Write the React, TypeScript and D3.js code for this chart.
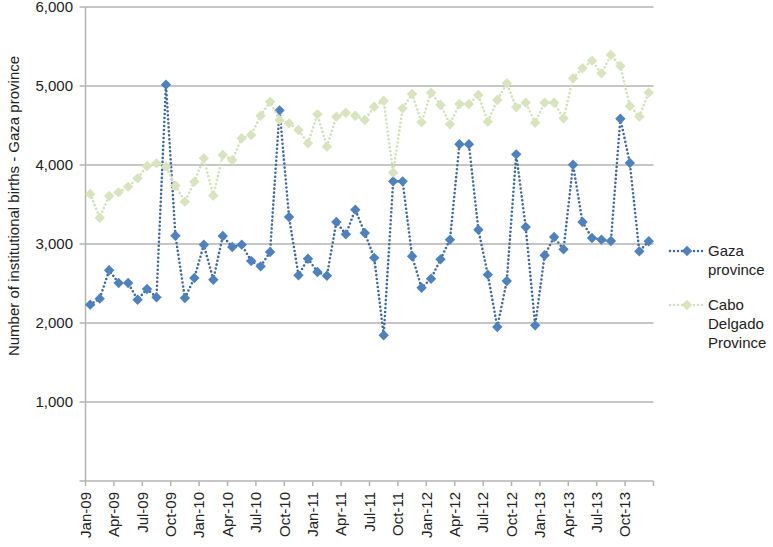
import React from "react";
import * as d3 from "d3";

const months: string[] = [];
["09", "10", "11", "12", "13"].forEach((yy) =>
  ["Jan", "Feb", "Mar", "Apr", "May", "Jun", "Jul", "Aug", "Sep", "Oct", "Nov", "Dec"].forEach((m) =>
    months.push(`${m}-${yy}`)
  )
);

const gaza: number[] = [
  2232, 2308, 2667, 2506, 2506, 2295, 2430, 2325, 5017, 3105, 2316, 2570,
  2990, 2548, 3101, 2962, 2992, 2785, 2717, 2899, 4692, 3342, 2603, 2814,
  2646, 2599, 3278, 3122, 3435, 3139, 2825, 1844, 3793, 3793, 2844, 2447,
  2561, 2806, 3055, 4262, 4262, 3181, 2612, 1949, 2532, 4135, 3215, 1970,
  2857, 3089, 2932, 4004, 3278, 3076, 3055, 3038, 4586, 4025, 2907, 3034,
];

const cabo: number[] = [
  3633, 3333, 3608, 3654, 3726, 3831, 3987, 4021, 3979, 3738, 3536, 3789,
  4084, 3612, 4127, 4063, 4338, 4380, 4624, 4802, 4570, 4527, 4443, 4274,
  4641, 4232, 4612, 4662, 4624, 4570, 4738, 4814, 3903, 4717, 4899, 4540,
  4916, 4759, 4515, 4772, 4772, 4886, 4549, 4823, 5034, 4730, 4789, 4536,
  4789, 4789, 4591, 5097, 5224, 5321, 5160, 5392, 5253, 4747, 4612, 4916,
];

const yTicks: number[] = [1000, 2000, 3000, 4000, 5000, 6000];
const xTickLabels: string[] = months.filter((_, i) => i % 3 === 0);
const yTitle = "Number of institutional births - Gaza province";

const series = [
  { name: ["Gaza", "province"], values: gaza, color: "#4F81BD", line: "#41699c" },
  { name: ["Cabo", "Delgado", "Province"], values: cabo, color: "#D7E4BD", line: "#d2dfb8" },
];

const FONT = "Liberation Sans, Arial, Helvetica, sans-serif";

export default function App() {
  const W = 773, H = 547;
  const x0 = 85.5, x1 = 653.5, yTop = 7, yBot = 481;
  const x = d3.scaleLinear().domain([0, months.length]).range([x0, x1]);
  const y = d3.scaleLinear().domain([0, 6000]).range([yBot, yTop]);
  const line = d3
    .line<number>()
    .x((_, i) => x(i + 0.5))
    .y((d) => y(d));
  const diamond = (cx: number, cy: number, r: number) =>
    `M${cx},${cy - r}L${cx + r},${cy}L${cx},${cy + r}L${cx - r},${cy}Z`;
  const xTickIdx = d3.range(0, months.length + 1, 3);

  const legendY = [251, 305];

  return (
    <svg
      width={W}
      height={H}
      style={{ position: "absolute", left: 0, top: 0, background: "#fff" }}
      fontFamily={FONT}
    >
      {/* gridlines */}
      {yTicks.map((t) => (
        <line key={t} x1={x0} x2={x1} y1={y(t)} y2={y(t)} stroke="#b3b3b3" strokeWidth={1.5} />
      ))}
      {/* y axis */}
      <line x1={x0} x2={x0} y1={yTop} y2={yBot} stroke="#b3b3b3" strokeWidth={1.5} />
      {[0, ...yTicks].map((t) => (
        <line key={"yt" + t} x1={x0 - 6} x2={x0} y1={y(t)} y2={y(t)} stroke="#b3b3b3" strokeWidth={1.5} />
      ))}
      {yTicks.map((t) => (
        <text key={"yl" + t} x={73} y={y(t)} dy="0.35em" textAnchor="end" fontSize={15} fill="#222">
          {d3.format(",")(t)}
        </text>
      ))}
      <text
        transform={`translate(19,206) rotate(-90)`}
        textAnchor="middle"
        fontSize={15}
        fill="#222"
      >
        {yTitle}
      </text>
      {/* x axis */}
      <line x1={x0} x2={x1} y1={yBot} y2={yBot} stroke="#b3b3b3" strokeWidth={1.5} />
      {xTickIdx.map((i) => (
        <line key={"xt" + i} x1={x(i)} x2={x(i)} y1={yBot} y2={yBot + 5} stroke="#b3b3b3" strokeWidth={1.5} />
      ))}
      {xTickLabels.map((lab, k) => (
        <text
          key={lab}
          transform={`translate(${x(k * 3)},${yBot + 11}) rotate(-90)`}
          textAnchor="end"
          dy="0.35em"
          fontSize={15}
          fill="#222"
        >
          {lab}
        </text>
      ))}
      {/* series */}
      {series.map((s) => (
        <g key={s.name.join(" ")}>
          <path
            d={line(s.values) || ""}
            fill="none"
            stroke={s.line}
            strokeWidth={2.6}
            strokeDasharray="0 4"
            strokeLinecap="round"
          />
          {s.values.map((v, i) => (
            <path key={i} d={diamond(x(i + 0.5), y(v), 5.2)} fill={s.color} />
          ))}
        </g>
      ))}
      {/* legend */}
      {series.map((s, k) => (
        <g key={"lg" + k}>
          <line
            x1={670}
            x2={704}
            y1={legendY[k]}
            y2={legendY[k]}
            stroke={s.line}
            strokeWidth={2.6}
            strokeDasharray="0 4"
            strokeLinecap="round"
          />
          <path d={diamond(687, legendY[k], 5.2)} fill={s.color} />
          {s.name.map((n, j) => (
            <text key={n} x={708} y={legendY[k] + j * 19} dy="0.35em" fontSize={15} fill="#222">
              {n}
            </text>
          ))}
        </g>
      ))}
    </svg>
  );
}
